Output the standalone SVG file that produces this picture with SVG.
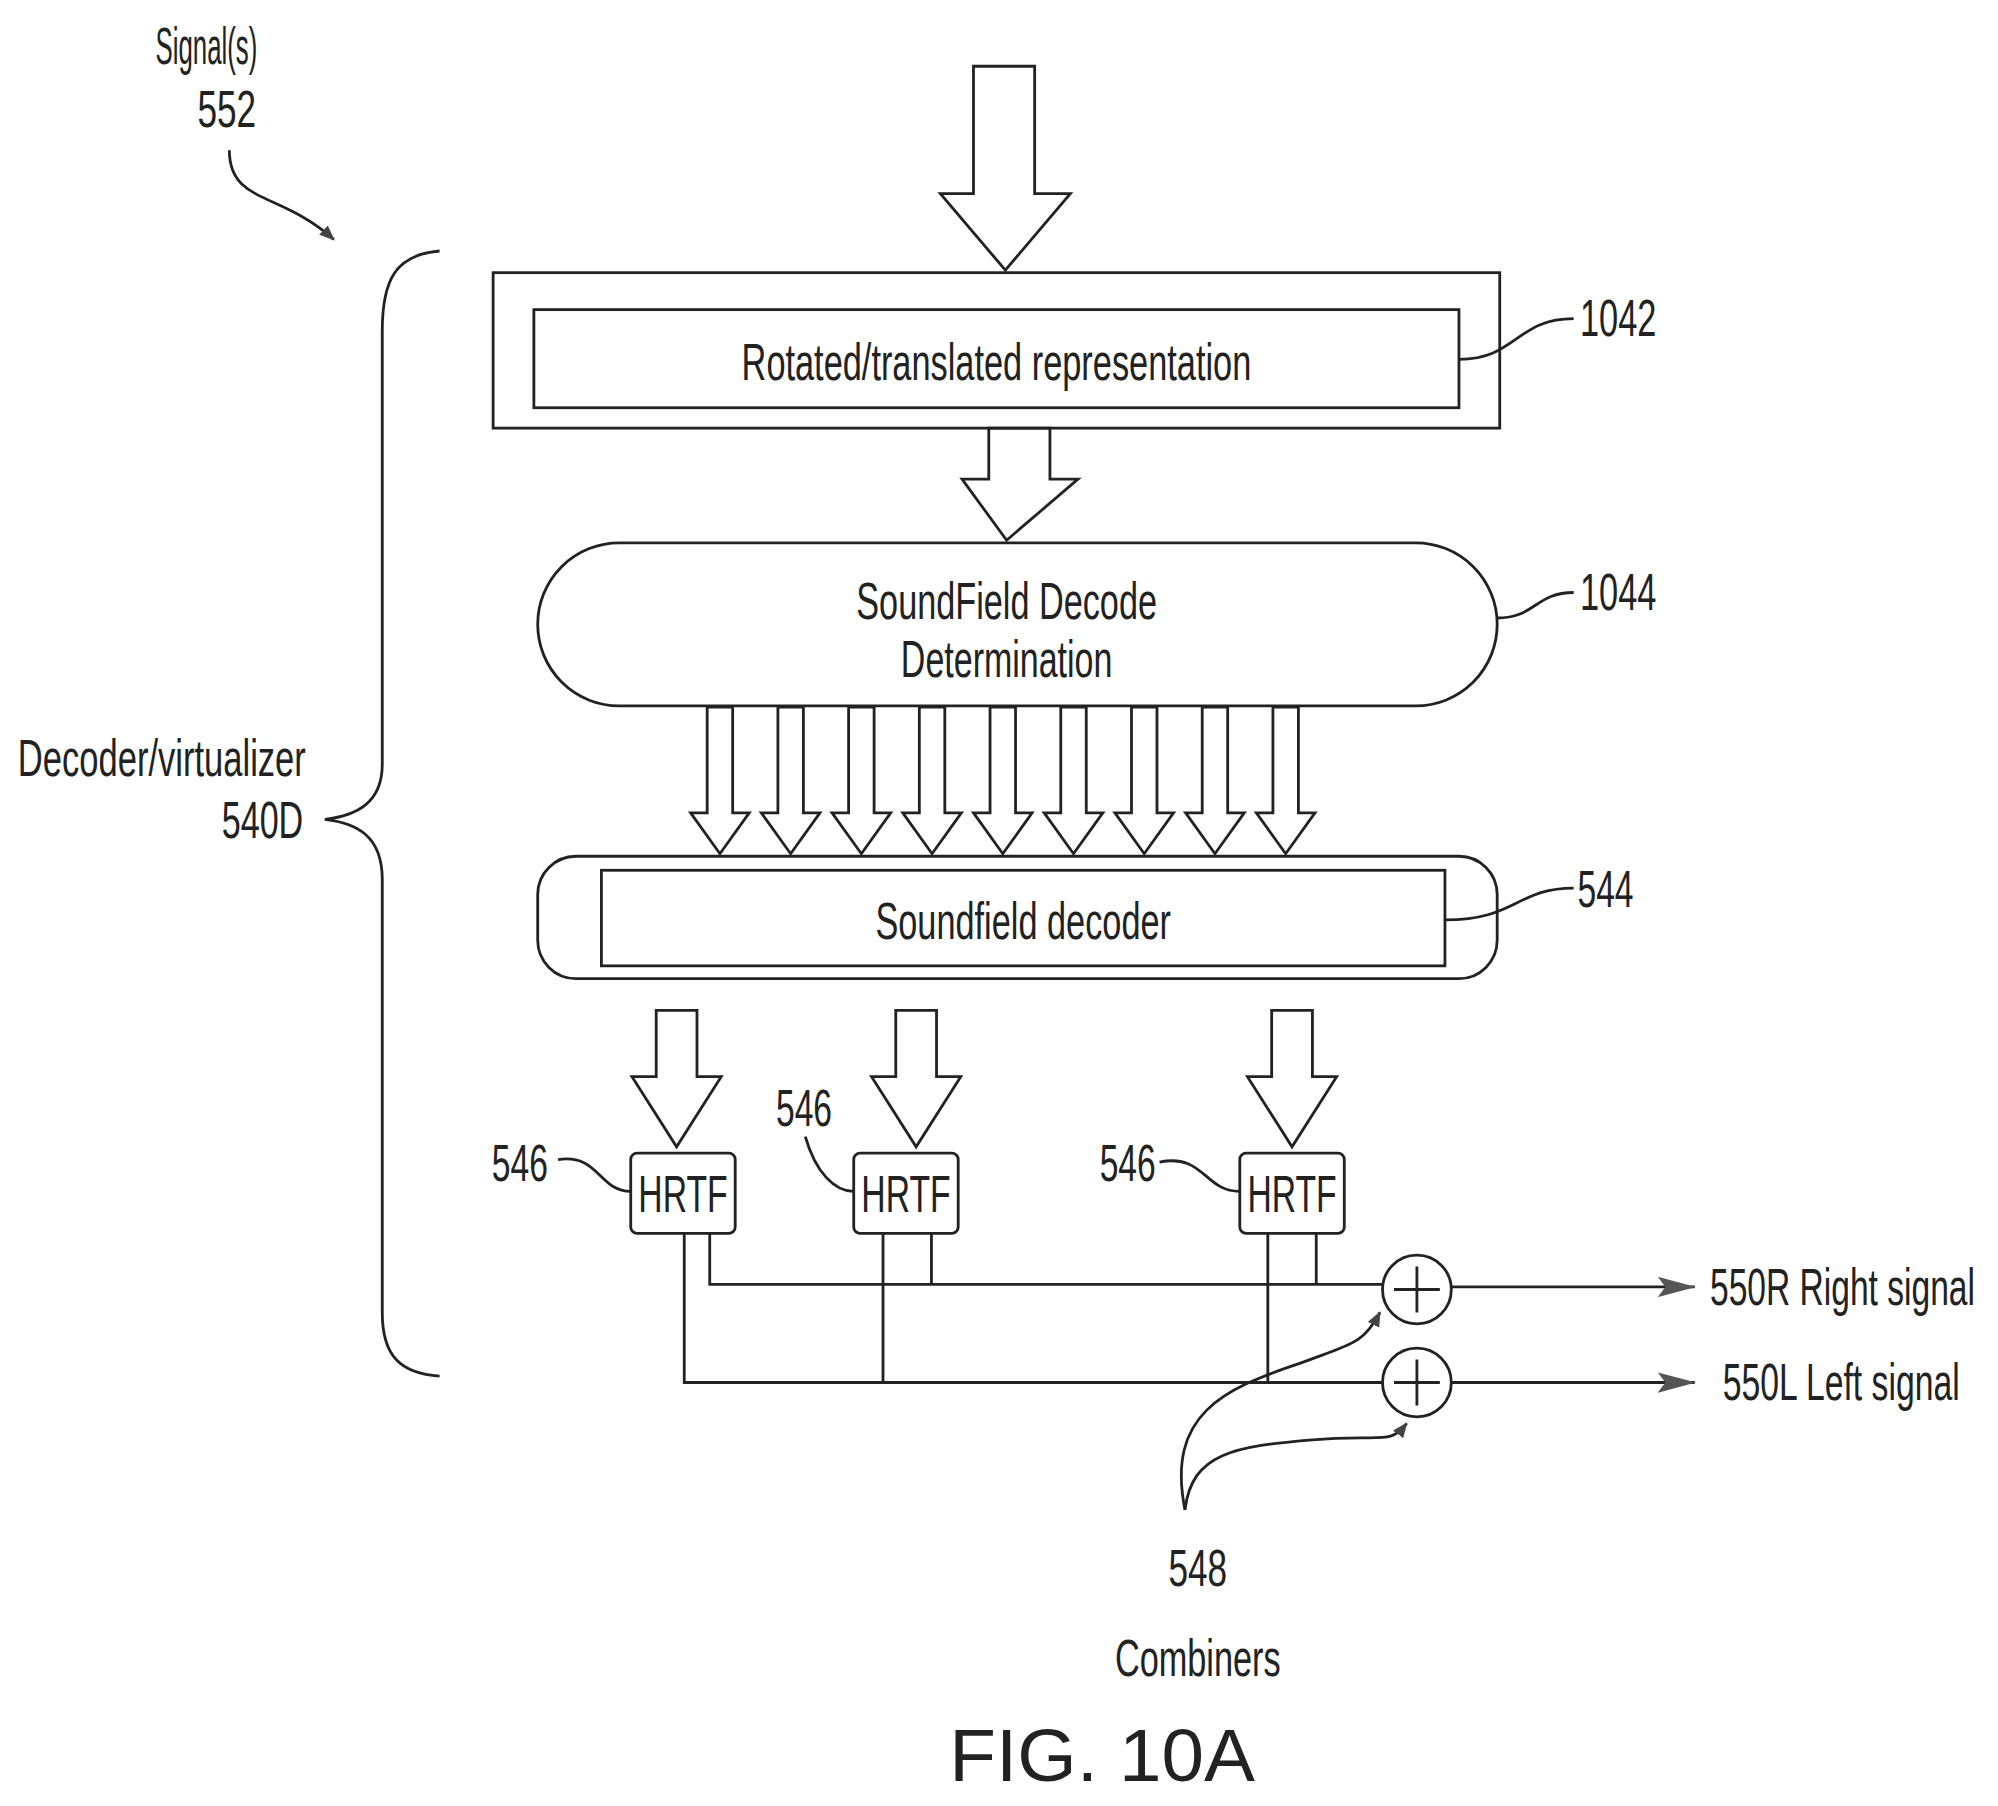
<svg xmlns="http://www.w3.org/2000/svg" width="1998" height="1806" viewBox="0 0 1998 1806">
<style>
.s{fill:none;stroke:#222;stroke-width:2.2}
.w{fill:#fff;stroke:#222;stroke-width:2.2}
.t{font-family:"Liberation Sans",Arial,sans-serif;font-size:40px;fill:#222;text-anchor:middle}
</style>
<defs>
<marker id="ah" markerWidth="12" markerHeight="10" refX="11" refY="5" orient="auto" markerUnits="userSpaceOnUse"><path d="M0,0 L12,5 L0,10 Z" fill="#444"/></marker>
<marker id="oh" markerWidth="30" markerHeight="16" refX="29" refY="8" orient="auto" markerUnits="userSpaceOnUse"><path d="M0,0 L30,8 L0,16 L6,8 Z" fill="#555"/></marker>
</defs>
<rect width="1998" height="1806" fill="#fff"/>
<g transform="scale(1.2742)">
<g id="labels">
<text class="t" x="162" y="50" textLength="80" lengthAdjust="spacingAndGlyphs">Signal(s)</text>
<text class="t" x="178" y="100" textLength="46" lengthAdjust="spacingAndGlyphs">552</text>
<path class="s" d="M180,118 C180,160 220,150 262,188" marker-end="url(#ah)"/>
<path class="s" d="M345,197 C310,200 300,220 300,260 L300,600 C300,630 280,640 255,643 C280,646 300,656 300,690 L300,1030 C300,1065 315,1078 345,1080"/>
<text class="t" x="127" y="609" textLength="226" lengthAdjust="spacingAndGlyphs">Decoder/virtualizer</text>
<text class="t" x="206" y="658" textLength="64" lengthAdjust="spacingAndGlyphs">540D</text>
</g>
<g id="connectors">
<path class="w" d="M764,52 L812,52 L812,152 L840,152 L789,212 L738,152 L764,152 Z"/>
<path class="w" d="M776,336 L824,336 L824,376 L846,376 L790,424 L755,376 L776,376 Z"/>
<g id="multi">
<path class="w" transform="translate(565,0)" d="M-10,555 L10,555 L10,638 L23,638 L0,670 L-23,638 L-10,638 Z"/>
<path class="w" transform="translate(620.5,0)" d="M-10,555 L10,555 L10,638 L23,638 L0,670 L-23,638 L-10,638 Z"/>
<path class="w" transform="translate(676,0)" d="M-10,555 L10,555 L10,638 L23,638 L0,670 L-23,638 L-10,638 Z"/>
<path class="w" transform="translate(731.5,0)" d="M-10,555 L10,555 L10,638 L23,638 L0,670 L-23,638 L-10,638 Z"/>
<path class="w" transform="translate(787,0)" d="M-10,555 L10,555 L10,638 L23,638 L0,670 L-23,638 L-10,638 Z"/>
<path class="w" transform="translate(842.5,0)" d="M-10,555 L10,555 L10,638 L23,638 L0,670 L-23,638 L-10,638 Z"/>
<path class="w" transform="translate(898,0)" d="M-10,555 L10,555 L10,638 L23,638 L0,670 L-23,638 L-10,638 Z"/>
<path class="w" transform="translate(953.5,0)" d="M-10,555 L10,555 L10,638 L23,638 L0,670 L-23,638 L-10,638 Z"/>
<path class="w" transform="translate(1009,0)" d="M-10,555 L10,555 L10,638 L23,638 L0,670 L-23,638 L-10,638 Z"/>
</g>
<path class="w" transform="translate(531,0)" d="M-16,793 L16,793 L16,845 L35,845 L0,900 L-35,845 L-16,845 Z"/>
<path class="w" transform="translate(719,0)" d="M-16,793 L16,793 L16,845 L35,845 L0,900 L-35,845 L-16,845 Z"/>
<path class="w" transform="translate(1014,0)" d="M-16,793 L16,793 L16,845 L35,845 L0,900 L-35,845 L-16,845 Z"/>
<path class="s" d="M557,968 V1008 H1085 M731,968 V1008 M1033,968 V1008 M537,968 V1085 H1085 M693,968 V1085 M995,968 V1085"/>
<path class="s" d="M1139,1010 H1330" marker-end="url(#oh)"/>
<path class="s" d="M1139,1085 H1330" marker-end="url(#oh)"/>
<path class="s" d="M930,1185 C915,1110 960,1090 1020,1070 C1060,1055 1070,1055 1083,1030" marker-end="url(#ah)"/>
<path class="s" d="M930,1185 C935,1140 970,1135 1030,1130 C1085,1125 1090,1135 1104,1117" marker-end="url(#ah)"/>
</g>
<g id="n1042">
<rect class="s" x="387" y="214" width="790" height="122"/>
<rect class="s" x="419" y="243" width="726" height="77"/>
<text class="t" x="782" y="298" textLength="400" lengthAdjust="spacingAndGlyphs">Rotated/translated representation</text>
<path class="s" d="M1145,282 C1190,282 1190,250 1235,250"/>
<text class="t" x="1270" y="264" textLength="60" lengthAdjust="spacingAndGlyphs">1042</text>
</g>
<g id="n1044">
<rect class="s" x="422" y="426" width="753" height="128" rx="64"/>
<text class="t" x="790" y="486" textLength="236" lengthAdjust="spacingAndGlyphs">SoundField Decode</text>
<text class="t" x="790" y="531" textLength="166" lengthAdjust="spacingAndGlyphs">Determination</text>
<path class="s" d="M1175,485 C1205,485 1205,465 1235,465"/>
<text class="t" x="1270" y="479" textLength="60" lengthAdjust="spacingAndGlyphs">1044</text>
</g>
<g id="n544">
<rect class="s" x="422" y="672" width="753" height="96" rx="30"/>
<rect class="s" x="472" y="683" width="662" height="75"/>
<text class="t" x="803" y="737" textLength="232" lengthAdjust="spacingAndGlyphs">Soundfield decoder</text>
<path class="s" d="M1134,722 C1190,722 1190,697 1235,697"/>
<text class="t" x="1260" y="712" textLength="44" lengthAdjust="spacingAndGlyphs">544</text>
</g>
<g id="h1">
<rect class="s" x="495" y="905" width="82" height="63" rx="5"/>
<text class="t" x="536" y="951" textLength="70" lengthAdjust="spacingAndGlyphs">HRTF</text>
<text class="t" x="408" y="927" textLength="44" lengthAdjust="spacingAndGlyphs">546</text>
<path class="s" d="M438,910 C470,905 470,935 495,935"/>
</g>
<g id="h2">
<rect class="s" x="670" y="905" width="82" height="63" rx="5"/>
<text class="t" x="711" y="951" textLength="70" lengthAdjust="spacingAndGlyphs">HRTF</text>
<text class="t" x="631" y="884" textLength="44" lengthAdjust="spacingAndGlyphs">546</text>
<path class="s" d="M632,892 C640,920 655,935 670,935"/>
</g>
<g id="h3">
<rect class="s" x="973" y="905" width="82" height="63" rx="5"/>
<text class="t" x="1014" y="951" textLength="70" lengthAdjust="spacingAndGlyphs">HRTF</text>
<text class="t" x="885" y="927" textLength="44" lengthAdjust="spacingAndGlyphs">546</text>
<path class="s" d="M910,912 C945,905 945,935 973,935"/>
</g>
<g id="cR">
<circle class="s" cx="1112" cy="1012" r="27"/>
<path class="s" d="M1112,994 V1030 M1094,1012 H1130"/>
</g>
<g id="cL">
<circle class="s" cx="1112" cy="1085" r="27"/>
<path class="s" d="M1112,1067 V1103 M1094,1085 H1130"/>
</g>
<g id="outs">
<text class="t" x="1342" y="1024" style="text-anchor:start" textLength="208" lengthAdjust="spacingAndGlyphs">550R Right signal</text>
<text class="t" x="1352" y="1099" style="text-anchor:start" textLength="186" lengthAdjust="spacingAndGlyphs">550L Left signal</text>
<text class="t" x="940" y="1245" textLength="46" lengthAdjust="spacingAndGlyphs">548</text>
<text class="t" x="940" y="1315" textLength="130" lengthAdjust="spacingAndGlyphs">Combiners</text>
<text class="t" x="865" y="1398" style="font-size:58px" textLength="240" lengthAdjust="spacingAndGlyphs">FIG. 10A</text>
</g>
</g>
</svg>
